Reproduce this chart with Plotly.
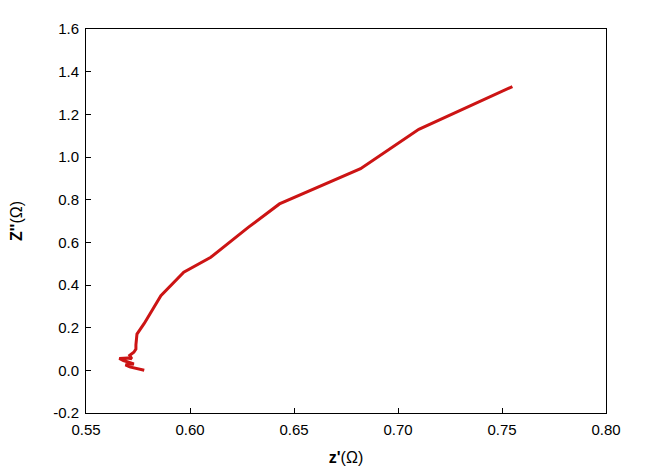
import plotly.graph_objects as go

# Nyquist data
z_real = [0.578, 0.576, 0.573, 0.576, 0.571, 0.569, 0.573, 0.568, 0.566, 0.570, 0.572,
          0.571, 0.573, 0.574, 0.574, 0.5745, 0.578, 0.586, 0.597, 0.610, 0.628, 0.643,
          0.682, 0.710, 0.755]
z_imag = [0.000, 0.004, 0.010, 0.004, 0.016, 0.026, 0.030, 0.046, 0.056, 0.058, 0.054,
          0.070, 0.085, 0.100, 0.120, 0.170, 0.220, 0.350, 0.460, 0.530, 0.670, 0.780,
          0.945, 1.130, 1.330]

x_ticks = [0.55, 0.60, 0.65, 0.70, 0.75, 0.80]
y_ticks = [-0.2, 0.0, 0.2, 0.4, 0.6, 0.8, 1.0, 1.2, 1.4, 1.6]

fig = go.Figure()
fig.add_trace(go.Scatter(x = z_real, y = z_imag, mode = 'lines',
    line = dict(color = '#CC1414', width = 3), showlegend = False))

axis_style = dict(showgrid = False, zeroline = False, showline = True, linecolor = '#000000', linewidth = 1,
    mirror = True, ticks = 'inside', ticklen = 5, tickcolor = '#000000', automargin = False,
    tickfont = dict(family = 'Liberation Sans, Arial', size = 15, color = '#000000'))

# page body has an 8px margin, so the figure is shifted by that much
fig.update_layout(width = 642, height = 468, margin = dict(l = 78, r = 44, t = 21, b = 63),
    plot_bgcolor = '#FFFFFF', paper_bgcolor = '#FFFFFF')
fig.update_xaxes(axis_style, range = [0.55, 0.80], tickvals = x_ticks, ticktext = ['%.2f' % v for v in x_ticks],
    ticklabelstandoff = 3,
    title = dict(text = "<b>z'</b>(Ω)", font = dict(family = 'Liberation Sans, Arial', size = 16, color = '#000000'), standoff = 14))
fig.update_yaxes(axis_style, range = [-0.2, 1.6], tickvals = y_ticks, ticktext = ['%.1f' % v for v in y_ticks],
    ticklabelstandoff = 3,
    title = dict(text = "<b>Z''</b>(Ω)", font = dict(family = 'Liberation Sans, Arial', size = 16, color = '#000000'), standoff = 33))

fig.write_html("out.html")
